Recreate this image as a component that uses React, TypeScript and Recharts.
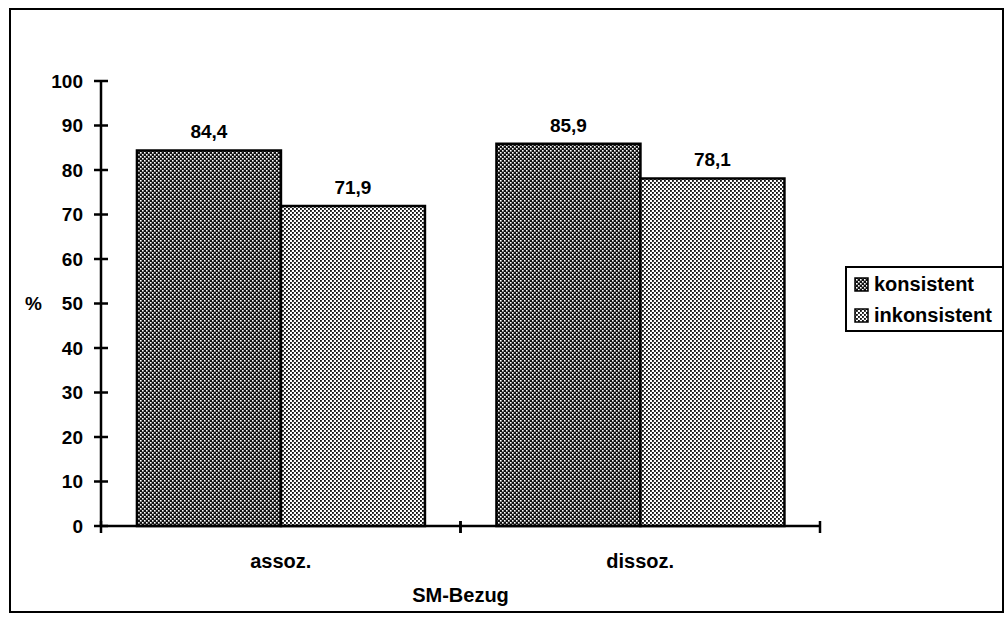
import React from 'react';
import { BarChart, Bar, XAxis, YAxis, Legend, LabelList, Label } from 'recharts';

const categories = ['assoz.', 'dissoz.'];
const seriesNames = ['konsistent', 'inkonsistent'];
const konsistentValues = [84.4, 85.9];
const inkonsistentValues = [71.9, 78.1];
const yTicks = [0, 10, 20, 30, 40, 50, 60, 70, 80, 90, 100];
const xTitle = 'SM-Bezug';
const yTitle = '%';

const data = categories.map((c, i) => ({
  cat: c,
  konsistent: konsistentValues[i],
  inkonsistent: inkonsistentValues[i],
}));

const FONT = '"Liberation Sans", Arial, Helvetica, sans-serif';
const FS = 19;
const FS_TEXT = 20;

const fmt = (v: any) => Number(v).toFixed(1).replace('.', ',');

const PatternDefs = ({ prefix }: { prefix: string }) => (
  <defs>
    <pattern id={`${prefix}dark`} width="4" height="4" patternUnits="userSpaceOnUse">
      <rect width="4" height="4" fill="#111" />
      <rect x="0" y="0" width="1.6" height="1.6" fill="#fff" />
      <rect x="2" y="2" width="1.6" height="1.6" fill="#fff" />
    </pattern>
    <pattern id={`${prefix}light`} width="4" height="4" patternUnits="userSpaceOnUse">
      <rect width="4" height="4" fill="#fff" />
      <rect x="0" y="0" width="1.85" height="1.85" fill="#111" />
      <rect x="2" y="2" width="1.85" height="1.85" fill="#111" />
    </pattern>
  </defs>
);

const YTick = (props: any) => {
  const { x, y, payload } = props;
  return (
    <g>
      <line x1={x - 7} x2={x + 7} y1={y} y2={y} stroke="#000" strokeWidth={2.5} />
      <text x={x - 18} y={y} dy="0.36em" textAnchor="end" fontFamily={FONT} fontWeight="bold" fontSize={FS} fill="#000">
        {payload.value}
      </text>
    </g>
  );
};

const XTick = (props: any) => {
  const { x, y, payload } = props;
  const half = payload && typeof payload.offset === 'number' && payload.offset > 0 ? payload.offset : 179.75;
  return (
    <g>
      <line x1={x - half} x2={x - half} y1={y - 5} y2={y + 7} stroke="#000" strokeWidth={2.5} />
      <line x1={x + half} x2={x + half} y1={y - 5} y2={y + 7} stroke="#000" strokeWidth={2.5} />
      <text x={x} y={y + 35} dy="0.36em" textAnchor="middle" fontFamily={FONT} fontWeight="bold" fontSize={FS_TEXT} fill="#000">
        {payload.value}
      </text>
    </g>
  );
};

const LegendContent = () => (
  <div
    style={{
      border: '2px solid #000',
      boxSizing: 'border-box',
      width: 159,
      height: 66,
      background: '#fff',
      padding: '1px 0 0 7px',
      fontFamily: FONT,
      fontWeight: 'bold',
      fontSize: FS_TEXT,
      color: '#000',
    }}
  >
    {seriesNames.map((n, i) => (
      <div key={n} style={{ display: 'flex', alignItems: 'center', height: 31, whiteSpace: 'nowrap' }}>
        <svg width={15} height={15} style={{ marginRight: 5, flex: 'none' }}>
          <PatternDefs prefix={`lg${i}`} />
          <rect x={1} y={1} width={13} height={13} fill={`url(#lg${i}${i === 0 ? 'dark' : 'light'})`} stroke="#000" strokeWidth={1.5} />
        </svg>
        <span>{n}</span>
      </div>
    ))}
  </div>
);

export default function App() {
  return (
    <div style={{ position: 'absolute', left: 0, top: 0, width: 1008, height: 624, background: '#fff' }}>
      <BarChart
        width={1008}
        height={624}
        data={data}
        margin={{ top: 81, right: 188, bottom: 38, left: 0 }}
        barCategoryGap="10%"
        barGap={0}
      >
        <PatternDefs prefix="ch" />
        <XAxis
          dataKey="cat"
          type="category"
          height={60}
          tickSize={0}
          tickMargin={0}
          tickLine={false}
          tick={<XTick />}
          axisLine={{ stroke: '#000', strokeWidth: 2.5 }}
          interval={0}
        >
          <Label
            value={xTitle}
            position="insideBottom"
            offset={-16}
            fontFamily={FONT}
            fontWeight="bold"
            fontSize={FS_TEXT}
            fill="#000"
          />
        </XAxis>
        <YAxis
          type="number"
          domain={[0, 100]}
          ticks={yTicks}
          interval={0}
          width={101}
          tickSize={0}
          tickMargin={0}
          tickLine={false}
          tick={<YTick />}
          axisLine={{ stroke: '#000', strokeWidth: 2.5 }}
        >
          <Label
            value={yTitle}
            position="insideLeft"
            offset={25}
            fontFamily={FONT}
            fontWeight="bold"
            fontSize={FS}
            fill="#000"
          />
        </YAxis>
        <Legend
          layout="vertical"
          align="center"
          verticalAlign="middle"
          content={<LegendContent />}
          wrapperStyle={{ position: 'absolute', left: 845, top: 266, width: 159, height: 66 }}
        />
        <Bar dataKey="konsistent" name={seriesNames[0]} fill="url(#chdark)" stroke="#000" strokeWidth={2.5} isAnimationActive={false}>
          <LabelList dataKey="konsistent" position="top" offset={12} formatter={fmt} fontFamily={FONT} fontWeight="bold" fontSize={FS} fill="#000" />
        </Bar>
        <Bar dataKey="inkonsistent" name={seriesNames[1]} fill="url(#chlight)" stroke="#000" strokeWidth={2.5} isAnimationActive={false}>
          <LabelList dataKey="inkonsistent" position="top" offset={12} formatter={fmt} fontFamily={FONT} fontWeight="bold" fontSize={FS} fill="#000" />
        </Bar>
      </BarChart>
      <div
        style={{
          position: 'absolute',
          left: 9,
          top: 8,
          width: 995,
          height: 605,
          border: '2.5px solid #000',
          boxSizing: 'border-box',
          pointerEvents: 'none',
        }}
      />
    </div>
  );
}
